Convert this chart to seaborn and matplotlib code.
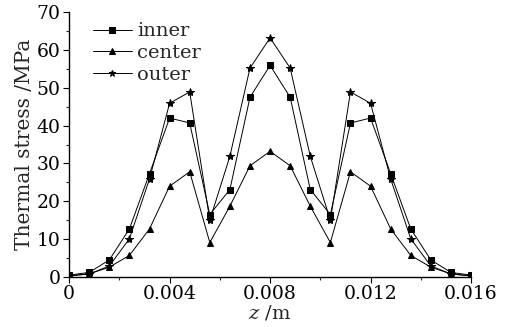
import numpy as np
import pandas as pd
import matplotlib
matplotlib.use("Agg")
import matplotlib.pyplot as plt
import seaborn as sns
from matplotlib.ticker import MultipleLocator

z = [0, 0.0008, 0.0016, 0.0024, 0.0032, 0.004, 0.0048, 0.0056, 0.0064, 0.0072, 0.008,
     0.0088, 0.0096, 0.0104, 0.0112, 0.012, 0.0128, 0.0136, 0.0144, 0.0152, 0.016]
inner = [0.5, 1.2, 4.5, 12.7, 27.3, 42.0, 40.7, 16.5, 23.1, 47.5, 55.9,
         47.5, 23.1, 16.5, 40.7, 42.0, 27.3, 12.7, 4.5, 1.2, 0.5]
center = [0.3, 0.8, 2.6, 5.7, 12.7, 24.0, 27.8, 9.1, 18.7, 29.4, 33.2,
          29.4, 18.7, 9.1, 27.8, 24.0, 12.7, 5.7, 2.6, 0.8, 0.3]
outer = [0.3, 0.8, 2.9, 10.1, 25.9, 45.9, 48.9, 15.0, 31.9, 55.2, 63.2,
         55.2, 31.9, 15.0, 48.9, 45.9, 25.9, 10.1, 2.9, 0.8, 0.3]
series_names = ["inner", "center", "outer"]
xtick_vals = [0, 0.004, 0.008, 0.012, 0.016]
xtick_labels = ["0", "0.004", "0.008", "0.012", "0.016"]

df = pd.concat([
    pd.DataFrame({"z": z, "stress": vals, "series": name})
    for name, vals in zip(series_names, [inner, center, outer])
])

sns.set_style("ticks")
plt.rcParams["font.family"] = ["DejaVu Serif"]
plt.rcParams["mathtext.fontset"] = "dejavuserif"

fig = plt.figure(figsize=(5.12, 3.27), dpi=100)
ax = fig.add_axes([0.135, 0.153, 0.785, 0.81])

sns.lineplot(data=df, x="z", y="stress", hue="series", style="series",
             hue_order=series_names, style_order=series_names,
             palette=["black"] * 3, markers={"inner": "s", "center": "^", "outer": "*"},
             dashes=False, markersize=5, linewidth=0.7, markeredgecolor="black",
             ax=ax, legend=True)

for ln in ax.lines:
    if ln.get_marker() == "*":
        ln.set_markersize(6)

ax.set_xlim(0, 0.016)
ax.set_ylim(0, 70)
ax.set_xticks(xtick_vals, labels=xtick_labels)
ax.xaxis.set_minor_locator(MultipleLocator(0.002))
ax.yaxis.set_major_locator(MultipleLocator(10))
ax.yaxis.set_minor_locator(MultipleLocator(5))
ax.tick_params(axis="both", which="major", labelsize=13.5, length=4, width=0.8,
               direction="out", colors="black", pad=2)
ax.tick_params(axis="both", which="minor", length=2.5, width=0.8, direction="out")
for s in ["left", "bottom"]:
    ax.spines[s].set_linewidth(1.0)
    ax.spines[s].set_color("black")
sns.despine(ax=ax)

ax.set_xlabel("$z$ /m", fontsize=14, labelpad=0)
ax.set_ylabel("Thermal stress /MPa", fontsize=14.5, labelpad=2)

leg = ax.legend(loc="upper left", bbox_to_anchor=(0.02, 1.02), frameon=False, fontsize=14,
                handlelength=2.0, handletextpad=0.3, labelspacing=0.2, borderaxespad=0.4,
                markerscale=0.75)

fig.savefig("out.png", dpi=100)
